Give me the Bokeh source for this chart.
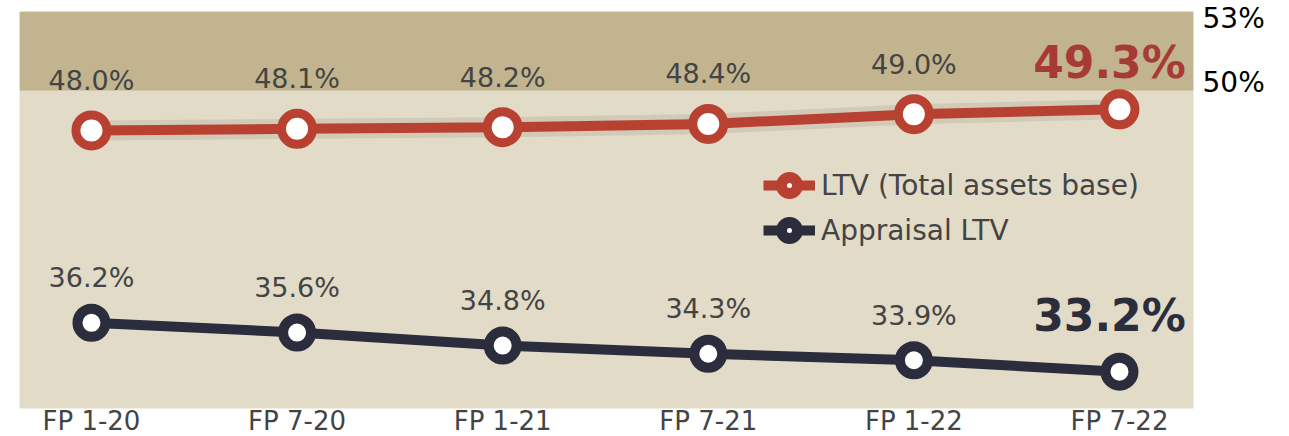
from bokeh.plotting import figure
from bokeh.models import (Range1d, LinearAxis, FixedTicker, BoxAnnotation,
                          Legend, LegendItem)
from bokeh.core.properties import value
from bokeh.embed import file_html
from bokeh.resources import INLINE

periods = ["FP 1-20", "FP 7-20", "FP 1-21", "FP 7-21", "FP 1-22", "FP 7-22"]
ltv_total = [48.0, 48.1, 48.2, 48.4, 49.0, 49.3]
ltv_appraisal = [36.2, 35.6, 34.8, 34.3, 33.9, 33.2]
right_ticks = [50, 53]
band_floor = 50.45

x = list(range(len(periods)))

FONT = "DejaVu Sans"
RED = "#B94131"
DARK = "#2B2D3C"
TXT = "#444444"

p = figure(frame_width=1174, frame_height=397,
           x_range=Range1d(-0.35, 5.36), y_range=Range1d(30.94, 55.30),
           output_backend="svg", toolbar_location=None, y_axis_location=None,
           min_border_left=19, min_border_top=11, min_border_bottom=0, min_border_right=0)
p.extra_y_ranges = {"right": Range1d(34.72, 53.33)}
p.background_fill_color = "#E1DBC8"
p.border_fill_color = "white"
p.outline_line_color = None
p.grid.visible = False

band = BoxAnnotation(bottom=band_floor, fill_color="#C1B48E", fill_alpha=1.0,
                     line_color=None, level="underlay")
p.add_layout(band)

# x axis
xa = p.xaxis[0]
xa.ticker = FixedTicker(ticks=x)
xa.major_label_overrides = {i: s for i, s in enumerate(periods)}
xa.axis_line_color = None
xa.major_tick_line_color = None
xa.minor_tick_line_color = None
xa.major_tick_in = 0
xa.major_tick_out = 0
xa.minor_tick_in = 0
xa.minor_tick_out = 0
xa.major_label_standoff = -3
xa.major_label_text_font = FONT
xa.major_label_text_font_size = "26px"
xa.major_label_text_color = TXT

# right axis
ra = LinearAxis(y_range_name="right", ticker=FixedTicker(ticks=right_ticks))
ra.major_label_overrides = {t: f"{t}%" for t in right_ticks}
ra.axis_line_color = None
ra.major_tick_line_color = None
ra.minor_tick_line_color = None
ra.major_tick_out = 0
ra.major_label_standoff = 9
ra.major_label_text_font = FONT
ra.major_label_text_font_size = "28px"
ra.major_label_text_color = "black"
p.add_layout(ra, "right")

# shadow under red line
p.line(x, ltv_total, line_width=20, line_color="#9E9885", line_alpha=0.25)

l1 = p.line(x, ltv_total, line_width=10, line_color=RED)
l2 = p.line(x, ltv_appraisal, line_width=10, line_color=DARK)
# legend swatches (hidden under the real markers)
s1 = p.scatter(x, ltv_total, size=16, line_width=11, line_color=RED, fill_color="white")
s2 = p.scatter(x, ltv_appraisal, size=16, line_width=11, line_color=DARK, fill_color="white")
p.scatter(x, ltv_total, size=31, line_width=9, line_color=RED, fill_color="white")
p.scatter(x, ltv_appraisal, size=28, line_width=10, line_color=DARK, fill_color="white")

# labels
p.text(x[:-1], ltv_total[:-1], text=[f"{v:.1f}%" for v in ltv_total[:-1]],
       text_font=value(FONT), text_font_size="27px", text_color=TXT,
       text_align="center", text_baseline="middle", y_offset=-50)
p.text(x[:-1], ltv_appraisal[:-1], text=[f"{v:.1f}%" for v in ltv_appraisal[:-1]],
       text_font=value(FONT), text_font_size="27px", text_color=TXT,
       text_align="center", text_baseline="middle", y_offset=-45)
p.text(x[-1:], ltv_total[-1:], text=[f"{ltv_total[-1]:.1f}%"],
       text_font=value(FONT), text_font_size="44px", text_font_style="bold",
       text_color="#A83A36", text_align="center", text_baseline="middle",
       x_offset=-10, y_offset=-47)
p.text(x[-1:], ltv_appraisal[-1:], text=[f"{ltv_appraisal[-1]:.1f}%"],
       text_font=value(FONT), text_font_size="44px", text_font_style="bold",
       text_color=DARK, text_align="center", text_baseline="middle",
       x_offset=-10, y_offset=-56)

legend = Legend(items=[LegendItem(label="LTV (Total assets base)", renderers=[l1, s1]),
                       LegendItem(label="Appraisal LTV", renderers=[l2, s2])],
                location=(744, 158), glyph_width=52, glyph_height=40,
                label_standoff=6, spacing=5, padding=0, margin=0,
                background_fill_alpha=0, border_line_color=None,
                label_text_font=FONT, label_text_font_size="28px",
                label_text_color=TXT)
p.add_layout(legend)

open("out.html", "w").write(file_html(p, INLINE))
